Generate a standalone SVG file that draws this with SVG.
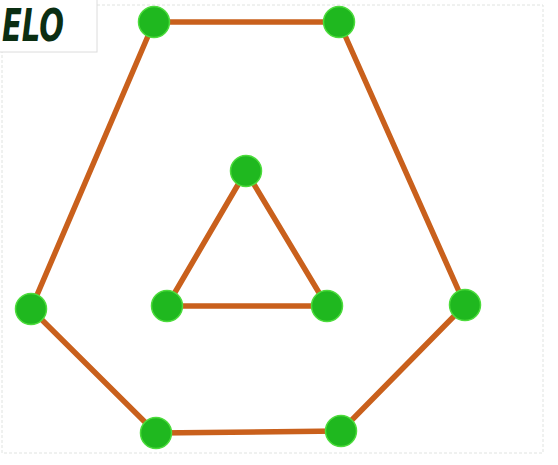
<svg xmlns="http://www.w3.org/2000/svg" width="558" height="465" viewBox="0 0 558 465">
<style>
.edge{stroke:#c9601c;stroke-width:5.5;stroke-linecap:round;fill:none}
.node{fill:#1fb81f;stroke:#4cdc3c;stroke-width:1.5}
.frame{fill:none;stroke:#e0e3e0;stroke-width:1;stroke-dasharray:3 2}
.label{font-family:"DejaVu Sans","Liberation Sans",sans-serif;font-weight:bold;font-style:italic;font-size:44px;fill:#0b2e12}
</style>
<rect width="558" height="465" fill="#ffffff"/>
<rect class="frame" x="2" y="5" width="541" height="448"/>
<g id="title">
<rect x="-2" y="-2" width="99" height="54" fill="#ffffff" stroke="#dcdcdc" stroke-width="1"/>
<text class="label" x="2" y="41" textLength="62" lengthAdjust="spacingAndGlyphs">ELO</text>
</g>
<g id="connectors">
<line class="edge" x1="154" y1="22" x2="339" y2="22"/>
<line class="edge" x1="339" y1="22" x2="465" y2="305"/>
<line class="edge" x1="465" y1="305" x2="341" y2="431"/>
<line class="edge" x1="341" y1="431" x2="156" y2="433"/>
<line class="edge" x1="156" y1="433" x2="31" y2="309"/>
<line class="edge" x1="31" y1="309" x2="154" y2="22"/>
<line class="edge" x1="246" y1="171" x2="327" y2="306"/>
<line class="edge" x1="327" y1="306" x2="167" y2="306"/>
<line class="edge" x1="167" y1="306" x2="246" y2="171"/>
</g>
<g id="n1"><circle class="node" cx="154" cy="22" r="15.5"/></g>
<g id="n2"><circle class="node" cx="339" cy="22" r="15.5"/></g>
<g id="n3"><circle class="node" cx="465" cy="305" r="15.5"/></g>
<g id="n4"><circle class="node" cx="341" cy="431" r="15.5"/></g>
<g id="n5"><circle class="node" cx="156" cy="433" r="15.5"/></g>
<g id="n6"><circle class="node" cx="31" cy="309" r="15.5"/></g>
<g id="n7"><circle class="node" cx="246" cy="171" r="15.5"/></g>
<g id="n8"><circle class="node" cx="167" cy="306" r="15.5"/></g>
<g id="n9"><circle class="node" cx="327" cy="306" r="15.5"/></g>
</svg>
